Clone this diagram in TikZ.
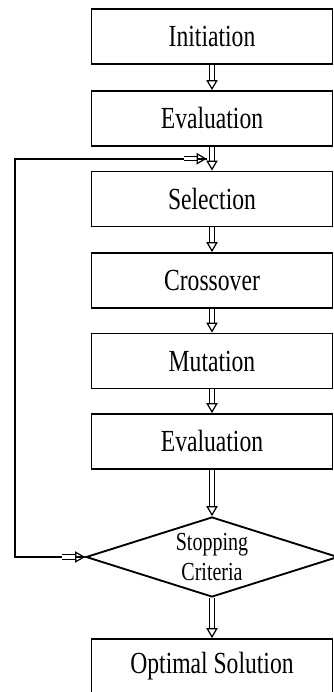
\documentclass[tikz,border=0pt]{standalone}
\usepackage{fontspec}
\usepackage{tikz}
\usetikzlibrary{shapes.geometric, arrows.meta, calc}
\newfontfamily\boxfont{Liberation Serif}[FakeStretch=0.77]
\tikzstyle{stage}=[rectangle, draw, line width=1.4pt, minimum width=180.75pt, minimum height=41.25pt, inner sep=2pt, font=\boxfont\fontsize{23}{24}\selectfont]
\tikzstyle{decision}=[diamond, draw, line width=1.4pt, aspect=3.15, minimum width=189pt, minimum height=60pt, inner sep=0pt, align=center, font=\boxfont\fontsize{19.5}{22.5}\selectfont]
\tikzstyle{flow}=[draw, double, double distance=2.3pt, line width=0.9pt, -{Triangle[open, length=7.5pt, width=8.5pt]}]
\newcommand{\stage}{\node[stage]}

\begin{document}
\begin{tikzpicture}[x=0.75pt, y=-0.75pt]
\useasboundingbox (0,0) rectangle (334,692);
%stages
\foreach \n/\y/\t in {init/36.5/Initiation, eval/118.5/Evaluation, sel/199/Selection, cross/280.5/Crossover, mut/361/Mutation, evaltwo/441.5/Evaluation, opt/666.5/Optimal Solution}{
	\stage (\n) at (212,\y){\t};}
%decision
\node[decision] (stop) at (212,557){Stopping\\Criteria};
%flow
\foreach \a/\b in {init/eval, eval/sel, sel/cross, cross/mut, mut/evaltwo, evaltwo/stop, stop/opt}{
	\draw[flow] (\a.south) -- (\b.north);}
%loop back
\coordinate (join) at ($(eval.south)!0.5!(sel.north)$);
\draw[line width=1.3pt] (stop.west) -- ++(-70,0) |- ([xshift=-4pt]join);
\draw[flow] ([xshift=-17pt]stop.west) -- (stop.west);
\draw[flow] ([xshift=-21pt]join) -- ([xshift=-4pt]join);
\end{tikzpicture}
\end{document}
